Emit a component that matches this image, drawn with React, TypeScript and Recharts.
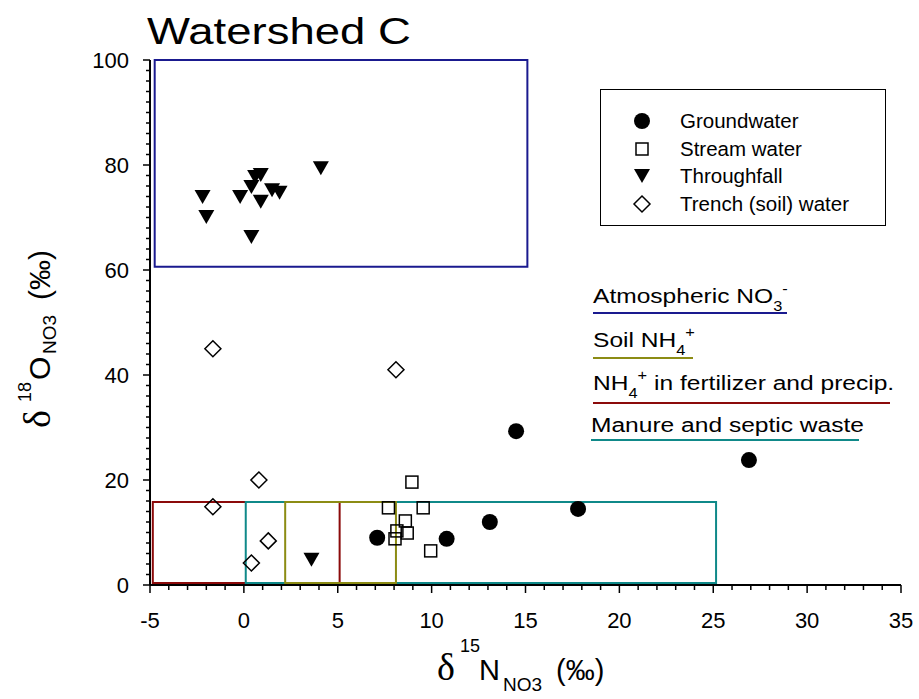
import React from "react"
import { ScatterChart, Scatter, XAxis, YAxis, ReferenceArea, Legend } from "recharts"

const FONT = "Arial, 'Liberation Sans', Helvetica, sans-serif"
const SERIF = "'Liberation Serif', 'Times New Roman', serif"

// d15N (x) and d18O (y) of nitrate, per sample type
const groundwaterN = [14.5, 26.9, 17.8, 13.1, 7.1, 10.8]
const groundwaterO = [29.3, 23.8, 14.5, 12.0, 9.0, 8.8]

const streamN = [8.95, 7.7, 9.55, 8.6, 8.15, 8.7, 8.05, 9.95]
const streamO = [19.6, 14.7, 14.7, 12.2, 10.3, 9.9, 8.8, 6.5]

const throughfallN = [-2.2, -2.0, -0.2, 0.6, 0.9, 0.4, 0.9, 1.5, 1.9, 4.1, 0.4, 3.6]
const throughfallO = [73.9, 70.1, 73.9, 77.7, 78.1, 75.8, 73.0, 75.2, 74.7, 79.4, 66.3, 4.8]

const trenchN = [-1.65, 8.1, 0.8, -1.65, 1.3, 0.4]
const trenchO = [45.0, 41.0, 20.0, 14.9, 8.4, 4.2]

// source boxes: [x1, x2, y1, y2]
const atmosphericBox = [-4.75, 15.1, 60.6, 100]
const fertilizerBox = [-4.85, 5.1, 0.4, 15.8]
const soilBox = [2.2, 8.1, 0.4, 15.8]
const manureBox = [0.1, 25.15, 0.4, 15.8]

const BLUE = "#1a1a8f"
const RED = "#8b0a0a"
const OLIVE = "#8c8c14"
const TEAL = "#0f8989"

const xMinor = Array.from({ length: 41 }, (_, i) => i - 5)
const yMinor = Array.from({ length: 51 }, (_, i) => i * 2)

const zip = (xs: number[], ys: number[]) => xs.map((x, i) => ({ x, y: ys[i] }))

function XTick({ x, y, payload }: any) {
    const v = payload.value
    const major = v % 5 === 0
    return (
        <g>
            <line x1={x} x2={x} y1={y} y2={y + (major ? 8 : 5)} stroke="#000" strokeWidth={1.5} />
            {major && (
                <text x={x} y={y + 43} textAnchor="middle" fontSize={22} fontFamily={FONT} fill="#000">
                    {v}
                </text>
            )}
        </g>
    )
}

function YTick({ x, y, payload }: any) {
    const v = payload.value
    const major = v % 20 === 0
    return (
        <g>
            <line x1={x - (major ? 7 : 4)} x2={x} y1={y} y2={y} stroke="#000" strokeWidth={1.5} />
            {major && (
                <text x={x - 21} y={y} dy="0.36em" textAnchor="end" fontSize={22} fontFamily={FONT} fill="#000">
                    {v}
                </text>
            )}
        </g>
    )
}

const Dot = ({ cx, cy }: any) => <circle cx={cx} cy={cy} r={8} fill="#000" />
const Square = ({ cx, cy }: any) => (
    <rect x={cx - 6} y={cy - 6} width={12} height={12} fill="none" stroke="#000" strokeWidth={1.5} />
)
const TriDown = ({ cx, cy }: any) => (
    <path d={`M${cx - 8},${cy - 7}L${cx + 8},${cy - 7}L${cx},${cy + 7}Z`} fill="#000" />
)
const Diamond = ({ cx, cy }: any) => (
    <path d={`M${cx},${cy - 8}L${cx + 8},${cy}L${cx},${cy + 8}L${cx - 8},${cy}Z`} fill="none" stroke="#000" strokeWidth={1.5} />
)

const legendRows = [
    { name: "Groundwater", Shape: Dot },
    { name: "Stream water", Shape: Square },
    { name: "Throughfall", Shape: TriDown },
    { name: "Trench (soil) water", Shape: Diamond },
]

function SampleLegend() {
    return (
        <div
            style={{
                width: 286,
                height: 137,
                border: "1px solid #000",
                boxSizing: "border-box",
                background: "#fff",
                position: "relative",
                fontFamily: FONT,
            }}
        >
            {legendRows.map((r, i) => (
                <div key={r.name} style={{ position: "absolute", left: 0, top: 31 + i * 27.7 - 12, height: 24, width: 280 }}>
                    <svg width={30} height={24} style={{ position: "absolute", left: 26, top: 0 }}>
                        <r.Shape cx={15} cy={12} />
                    </svg>
                    <span style={{ position: "absolute", left: 79, top: 0, lineHeight: "24px", fontSize: 20.5, color: "#000", whiteSpace: "nowrap" }}>
                        {r.name}
                    </span>
                </div>
            ))}
        </div>
    )
}

function Box({ b, color }: { b: number[]; color: string }) {
    return (
        <ReferenceArea
            x1={b[0]}
            x2={b[1]}
            y1={b[2]}
            y2={b[3]}
            fill="none"
            fillOpacity={0}
            stroke={color}
            strokeWidth={2}
            ifOverflow="visible"
        />
    )
}

export default function App() {
    return (
        <div style={{ position: "absolute", left: 0, top: 0, width: 919, height: 699, background: "#fff" }}>
            <ScatterChart width={919} height={699} margin={{ top: 60, right: 18, bottom: 64, left: 90 }}>
                <XAxis
                    type="number"
                    dataKey="x"
                    domain={[-5, 35]}
                    ticks={xMinor}
                    interval={0}
                    height={50}
                    tickSize={0}
                    tickMargin={0}
                    tickLine={false}
                    axisLine={{ stroke: "#000", strokeWidth: 2 }}
                    tick={(p: any) => <XTick {...p} />}
                />
                <YAxis
                    type="number"
                    dataKey="y"
                    domain={[0, 100]}
                    ticks={yMinor}
                    interval={0}
                    width={60}
                    tickSize={0}
                    tickMargin={0}
                    tickLine={false}
                    axisLine={{ stroke: "#000", strokeWidth: 2 }}
                    tick={(p: any) => <YTick {...p} />}
                />
                {Box({ b: atmosphericBox, color: BLUE })}
                {Box({ b: fertilizerBox, color: RED })}
                {Box({ b: manureBox, color: TEAL })}
                {Box({ b: soilBox, color: OLIVE })}
                <Scatter name="Groundwater" data={zip(groundwaterN, groundwaterO)} shape={Dot} isAnimationActive={false} />
                <Scatter name="Stream water" data={zip(streamN, streamO)} shape={Square} isAnimationActive={false} />
                <Scatter name="Throughfall" data={zip(throughfallN, throughfallO)} shape={TriDown} isAnimationActive={false} />
                <Scatter name="Trench (soil) water" data={zip(trenchN, trenchO)} shape={Diamond} isAnimationActive={false} />
                <Legend
                    content={() => <SampleLegend />}
                    layout="horizontal"
                    verticalAlign="middle"
                    wrapperStyle={{ left: 600, top: 89, width: 286, height: 137 }}
                />
            </ScatterChart>

            <svg
                width={919}
                height={699}
                style={{ position: "absolute", left: 0, top: 0, pointerEvents: "none" }}
                fontFamily={FONT}
                fill="#000"
            >
                <g transform="translate(147,44) scale(1.23,1)">
                    <text fontSize={37}>Watershed C</text>
                </g>

                {/* source labels */}
                <g transform="translate(593,303) scale(1.17,1)">
                    <text fontSize={21}>
                        Atmospheric NO
                        <tspan fontSize={14} dy={8}>3</tspan>
                        <tspan fontSize={14} dy={-17}>-</tspan>
                    </text>
                </g>
                <line x1={593} x2={787} y1={313} y2={313} stroke={BLUE} strokeWidth={2} />

                <g transform="translate(593,347) scale(1.17,1)">
                    <text fontSize={21}>
                        Soil NH
                        <tspan fontSize={14} dy={8}>4</tspan>
                        <tspan fontSize={14} dy={-18}>+</tspan>
                    </text>
                </g>
                <line x1={593} x2={693} y1={358} y2={358} stroke={OLIVE} strokeWidth={2} />

                <g transform="translate(593,390) scale(1.17,1)">
                    <text fontSize={21}>
                        NH
                        <tspan fontSize={14} dy={8}>4</tspan>
                        <tspan fontSize={14} dy={-18}>+</tspan>
                        <tspan fontSize={21} dy={10}> in fertilizer and precip.</tspan>
                    </text>
                </g>
                <line x1={593} x2={890} y1={403} y2={403} stroke={RED} strokeWidth={2} />

                <g transform="translate(591,432) scale(1.17,1)">
                    <text fontSize={21}>Manure and septic waste</text>
                </g>
                <line x1={591} x2={859} y1={440} y2={440} stroke={TEAL} strokeWidth={2} />

                {/* x axis title */}
                <text y={680}>
                    <tspan x={437} fontSize={38} fontFamily={SERIF}>δ</tspan>
                    <tspan x={460} fontSize={18} dy={-28}>15</tspan>
                    <tspan x={479} fontSize={29} dy={28}>N</tspan>
                    <tspan x={503} fontSize={19} dy={11}>NO3</tspan>
                    <tspan x={556} fontSize={29} dy={-11}>(‰)</tspan>
                </text>

                {/* y axis title */}
                <g transform="translate(50,428) rotate(-90)">
                    <text y={0}>
                        <tspan x={0} fontSize={38} fontFamily={SERIF}>δ</tspan>
                        <tspan x={26} fontSize={18} dy={-19}>18</tspan>
                        <tspan x={48} fontSize={30} dy={19}>O</tspan>
                        <tspan x={74} fontSize={19} dy={6}>NO3</tspan>
                        <tspan x={128} fontSize={30} dy={-6}>(‰)</tspan>
                    </text>
                </g>
            </svg>
        </div>
    )
}
